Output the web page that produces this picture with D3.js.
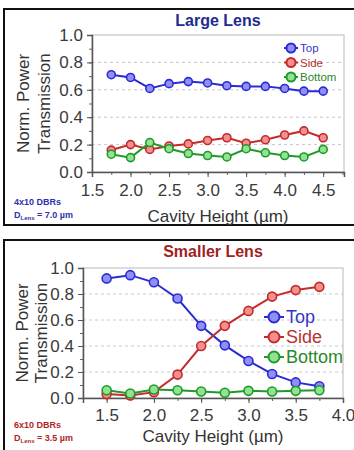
<!DOCTYPE html>
<html>
<head>
<meta charset="utf-8">
<script src="https://cdn.jsdelivr.net/npm/d3@7"></script>
<style>
  body { margin: 0; background: #fff; }
  text { font-family: "Liberation Sans", Arial, sans-serif; }
</style>
</head>
<body>
<svg width="354" height="450"></svg>
<script>
// data
const largeX = [1.75, 2.0, 2.25, 2.5, 2.75, 3.0, 3.25, 3.5, 3.75, 4.0, 4.25, 4.5];
const largeTop = [0.71, 0.69, 0.61, 0.645, 0.66, 0.65, 0.63, 0.625, 0.625, 0.61, 0.59, 0.59];
const largeSide = [0.16, 0.20, 0.165, 0.19, 0.205, 0.23, 0.25, 0.21, 0.235, 0.27, 0.30, 0.25];
const largeBottom = [0.13, 0.105, 0.215, 0.17, 0.135, 0.12, 0.11, 0.17, 0.14, 0.12, 0.11, 0.165];

const smallX = [1.5, 1.75, 2.0, 2.25, 2.5, 2.75, 3.0, 3.25, 3.5, 3.75];
const smallTop = [0.92, 0.945, 0.89, 0.765, 0.555, 0.405, 0.285, 0.185, 0.12, 0.09];
const smallSide = [0.03, 0.02, 0.045, 0.18, 0.40, 0.555, 0.67, 0.78, 0.83, 0.855];
const smallBottom = [0.06, 0.035, 0.065, 0.06, 0.05, 0.04, 0.055, 0.05, 0.055, 0.06];

const seriesNames = ["Top", "Side", "Bottom"];
const yTicks = [0.0, 0.2, 0.4, 0.6, 0.8, 1.0];
const largeXTicks = [1.5, 2.0, 2.5, 3.0, 3.5, 4.0, 4.5];
const smallXTicks = [1.5, 2.0, 2.5, 3.0, 3.5, 4.0];

const strokes = ["#2b2bd6", "#c42b2b", "#1e9a2a"];
const fills = ["#9090f2", "#f29090", "#92e292"];
const legendText = ["#3535c8", "#b53232", "#2a8a2a"];

const svg = d3.select("svg");

// outer panel boxes
svg.append("rect").attr("x", 4).attr("y", 9).attr("width", 362).attr("height", 216)
  .attr("fill", "none").attr("stroke", "#111").attr("stroke-width", 2);
svg.append("rect").attr("x", 4).attr("y", 240).attr("width", 362).attr("height", 230)
  .attr("fill", "none").attr("stroke", "#111").attr("stroke-width", 2);

function drawPanel(cfg) {
  const x = d3.scaleLinear().domain(cfg.xDomain).range([cfg.left, cfg.right]);
  const y = d3.scaleLinear().domain([0, 1]).range([cfg.bottom, cfg.top]);

  // dashed grid
  svg.append("g").selectAll("line")
    .data([0.2, 0.4, 0.6, 0.8])
    .enter().append("line")
    .attr("x1", cfg.left).attr("x2", cfg.right)
    .attr("y1", d => y(d)).attr("y2", d => y(d))
    .attr("stroke", "#c8c8c8").attr("stroke-dasharray", "3,3");

  // light frame
  svg.append("rect")
    .attr("x", cfg.left).attr("y", cfg.top)
    .attr("width", cfg.right - cfg.left).attr("height", cfg.bottom - cfg.top)
    .attr("fill", "none").attr("stroke", "#b8b8b8");

  // minor ticks
  const minorY = d3.range(0, 1.0001, 0.1);
  svg.append("g")
    .attr("transform", "translate(" + cfg.left + ",0)")
    .call(d3.axisLeft(y).tickValues(minorY).tickSize(3).tickFormat(""))
    .call(g => g.select(".domain").remove())
    .selectAll("line").attr("stroke", "#666");
  const minorX = d3.range(cfg.xDomain[0], cfg.xDomain[1] + 0.001, 0.25);
  svg.append("g")
    .attr("transform", "translate(0," + cfg.bottom + ")")
    .call(d3.axisBottom(x).tickValues(minorX).tickSize(3).tickFormat(""))
    .call(g => g.select(".domain").remove())
    .selectAll("line").attr("stroke", "#666");

  // main axes
  const gy = svg.append("g")
    .attr("transform", "translate(" + cfg.left + ",0)")
    .call(d3.axisLeft(y).tickValues(yTicks).tickSize(5).tickPadding(4).tickFormat(d3.format(".1f")));
  const gx = svg.append("g")
    .attr("transform", "translate(0," + cfg.bottom + ")")
    .call(d3.axisBottom(x).tickValues(cfg.xTicks).tickSize(5).tickPadding(cfg.xPad).tickFormat(d3.format(".1f")));
  [gy, gx].forEach(g => {
    g.select(".domain").attr("stroke", "#555").attr("stroke-width", 1.5);
    g.selectAll(".tick line").attr("stroke", "#555");
    g.selectAll(".tick text")
      .style("font-family", "'Liberation Sans', Arial, sans-serif")
      .style("font-size", "17px").attr("fill", "#3a3a3a");
  });

  // series
  const line = d3.line().x(d => x(d[0])).y(d => y(d[1]));
  cfg.series.forEach((vals, i) => {
    const pts = cfg.xs.map((xv, j) => [xv, vals[j]]);
    svg.append("path").datum(pts)
      .attr("d", line).attr("fill", "none")
      .attr("stroke", strokes[i]).attr("stroke-width", 2);
    svg.append("g").selectAll("circle")
      .data(pts).enter().append("circle")
      .attr("cx", d => x(d[0])).attr("cy", d => y(d[1]))
      .attr("r", cfg.r)
      .attr("fill", fills[i]).attr("stroke", strokes[i]).attr("stroke-width", 1.6);
  });

  // legend
  const lg = svg.append("g").attr("transform", "translate(" + cfg.legX + "," + cfg.legY + ")");
  seriesNames.forEach((name, i) => {
    const row = lg.append("g").attr("transform", "translate(0," + i * cfg.legStep + ")");
    row.append("line").attr("x1", -cfg.legLine).attr("x2", cfg.legLine)
      .attr("stroke", strokes[i]).attr("stroke-width", 2);
    row.append("circle").attr("r", cfg.legR)
      .attr("fill", fills[i]).attr("stroke", strokes[i]).attr("stroke-width", 2);
    row.append("text").attr("x", cfg.legLine + 2).attr("dy", "0.36em")
      .style("font-size", cfg.legFont + "px").attr("fill", legendText[i]).text(name);
  });

  // title
  svg.append("text")
    .attr("x", (cfg.left + cfg.right) / 2).attr("y", cfg.titleY)
    .attr("text-anchor", "middle")
    .style("font-size", "16px").style("font-weight", "bold")
    .attr("fill", cfg.titleColor).text(cfg.title);

  // y axis title
  const yt = svg.append("text")
    .attr("transform", "translate(" + cfg.yTitleX + "," + (cfg.top + cfg.bottom) / 2 + ")rotate(-90)")
    .attr("text-anchor", "middle")
    .style("font-size", "17px").attr("fill", "#333");
  yt.append("tspan").attr("x", 0).attr("y", 0).text("Norm. Power");
  yt.append("tspan").attr("x", 0).attr("y", cfg.yTitleGap).text("Transmission");

  // x axis title
  svg.append("text")
    .attr("x", (cfg.left + cfg.right) / 2).attr("y", cfg.xTitleY)
    .attr("text-anchor", "middle")
    .style("font-size", "17px").attr("fill", "#333")
    .text("Cavity Height (µm)");

  // note
  const note = svg.append("g").attr("fill", cfg.noteColor)
    .style("font-weight", "bold").style("font-size", "9px");
  note.append("text").attr("x", 14).attr("y", cfg.noteY).text(cfg.dbr);
  const t2 = note.append("text").attr("x", 14).attr("y", cfg.noteY + 13);
  t2.append("tspan").text("D");
  t2.append("tspan").attr("dy", 2).style("font-size", "6px").text("Lens");
  t2.append("tspan").attr("dy", -2).text(" = " + cfg.dLens + " µm");
}

drawPanel({
  xDomain: [1.5, 4.77], xTicks: largeXTicks, xPad: 7,
  left: 92, right: 344, top: 35, bottom: 172,
  xs: largeX, series: [largeTop, largeSide, largeBottom], r: 4,
  legX: 291, legY: 48, legStep: 14.5, legLine: 7, legR: 4.5, legFont: 11.5,
  title: "Large Lens", titleColor: "#1f2a8f", titleY: 26,
  yTitleX: 29, yTitleGap: 21, xTitleY: 222,
  noteColor: "#2f2fb0", noteY: 205, dbr: "4x10 DBRs", dLens: "7.0"
});

drawPanel({
  xDomain: [1.25, 4.0], xTicks: smallXTicks, xPad: 6,
  left: 83, right: 343, top: 268, bottom: 398,
  xs: smallX, series: [smallTop, smallSide, smallBottom], r: 4.5,
  legX: 274, legY: 317, legStep: 20, legLine: 10, legR: 5.5, legFont: 18,
  title: "Smaller Lens", titleColor: "#a11f1f", titleY: 257,
  yTitleX: 28, yTitleGap: 19, xTitleY: 442,
  noteColor: "#b02525", noteY: 428, dbr: "6x10 DBRs", dLens: "3.5"
});
</script>
</body>
</html>
